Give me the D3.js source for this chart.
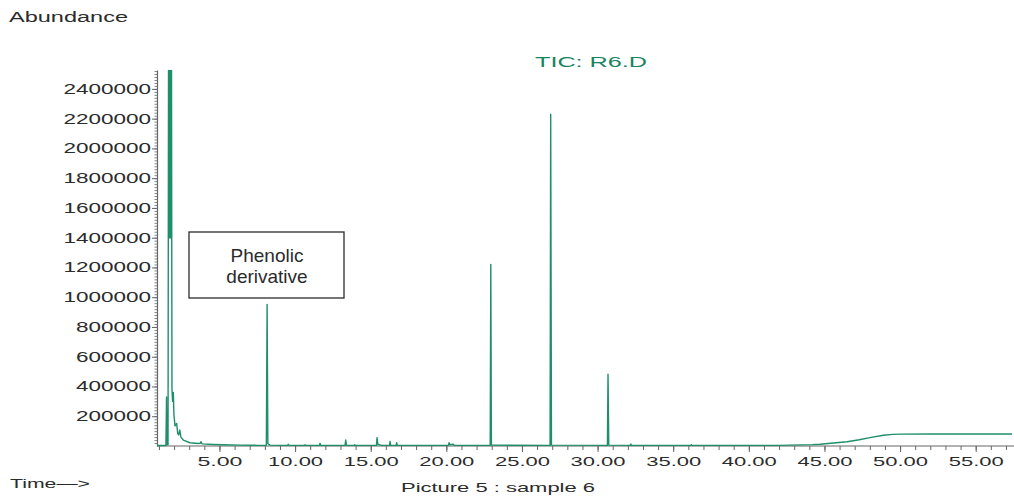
<!DOCTYPE html>
<html>
<head>
<meta charset="utf-8">
<script src="https://cdn.jsdelivr.net/npm/d3@7"></script>
<style>
  html, body { margin: 0; padding: 0; background: #fff; }
  svg { display: block; font-family: "Liberation Sans", Arial, Helvetica, sans-serif; }
</style>
</head>
<body>
<svg id="chart" width="1014" height="496"></svg>
<script>
// Total ion chromatogram, run R6.D — retention time (min) vs abundance
const traceTime = [
  0.87, 1.40, 1.46, 1.50, 1.53, 1.60, 1.64, 1.67, 1.70, 1.73, 1.76, 1.79, 1.82, 1.86,
  1.90, 1.95, 1.99, 2.06, 2.17, 2.24, 2.30, 2.38, 2.45, 2.61, 3.05, 3.60, 3.72, 3.78,
  3.85, 4.60, 5.24, 6.36, 7.50, 8.10, 8.15, 8.20, 8.35, 9.00, 9.50, 9.55, 9.60, 10.62,
  10.66, 10.70, 11.60, 11.65, 11.70, 13.30, 13.35, 13.40, 13.90, 13.94, 13.98, 15.38,
  15.42, 15.47, 15.60, 15.70, 16.24, 16.28, 16.32, 16.68, 16.72, 16.76, 20.14, 20.18,
  20.24, 20.46, 20.52, 22.90, 22.94, 22.98, 26.86, 26.90, 26.95, 30.65, 30.69, 30.74,
  32.16, 32.20, 32.24, 36.16, 36.20, 36.24, 42.0, 44.2, 44.7, 46.5, 47.3, 48.0, 48.9,
  49.5, 50.0, 52.0, 57.4
];
const traceAbundance = [
  3000, 3500, 4000, 330000, 8000, 9000, 3200000, 1400000, 3200000, 1400000, 3200000, 1400000, 3200000, 380000,
  300000, 360000, 210000, 135000, 152000, 85000, 74000, 107000, 60000, 40000, 22000, 17000, 18000, 29000,
  14000, 10000, 8000, 6000, 4500, 4500, 952000, 15000, 6000, 4000, 4000, 11000, 4000, 4000,
  8000, 4000, 4000, 18000, 4000, 4000, 40000, 5000, 4000, 9000, 4000, 4000,
  56000, 12000, 8000, 5000, 4000, 31000, 5000, 4000, 22000, 4000, 4000, 22000,
  8000, 12000, 4000, 4000, 1220000, 6000, 4000, 2230000, 6000, 4000, 482000, 6000,
  4000, 14000, 4000, 4000, 9000, 4000, 4000, 9000, 12000, 29000, 42000, 56000, 72000,
  78000, 80000, 81000, 81000
];

const yTickValues = [200000, 400000, 600000, 800000, 1000000, 1200000, 1400000,
                     1600000, 1800000, 2000000, 2200000, 2400000];
const xTickValues = [5, 10, 15, 20, 25, 30, 35, 40, 45, 50, 55];
const xTickLabels = ["5.00", "10.00", "15.00", "20.00", "25.00", "30.00",
                     "35.00", "40.00", "45.00", "50.00", "55.00"];
const annotationLines = ["Phenolic", "derivative"];

const svg = d3.select("#chart");
const traceColor = "#1f8f6a";
const inkColor = "#2b2b2b";
const axisColor = "#666";

const x = d3.scaleLinear().domain([0.87, 57.4]).range([157, 1012]);
const y = d3.scaleLinear().domain([0, 2527000]).range([446, 70]);

// Minor y ticks every 20 000
const yMinor = d3.range(20000, 2527000, 20000);
svg.append("g")
  .attr("transform", `translate(${x.range()[0]},0)`)
  .call(d3.axisLeft(y).tickValues(yMinor).tickSize(2.5).tickSizeOuter(0).tickFormat(""))
  .call(g => g.select(".domain").remove())
  .call(g => g.selectAll("line").attr("stroke", axisColor).attr("stroke-width", 0.8));

// Major y axis
const yAxis = svg.append("g")
  .attr("transform", `translate(${x.range()[0]},0)`)
  .call(d3.axisLeft(y).tickValues(yTickValues).tickSize(5).tickSizeOuter(0).tickFormat(d3.format("d")));
yAxis.select(".domain").attr("stroke", axisColor).attr("stroke-width", 1.2);
yAxis.selectAll("line").attr("stroke", axisColor);
yAxis.selectAll("text")
  .attr("x", -6)
  .attr("fill", inkColor)
  .style("font-size", "14px")
  .attr("textLength", function () { return this.textContent.length * 12.5; })
  .attr("lengthAdjust", "spacingAndGlyphs");

// Minor x ticks every minute
const xMinor = d3.range(1, 58, 1);
svg.append("g")
  .attr("transform", `translate(0,${y(0)})`)
  .call(d3.axisBottom(x).tickValues(xMinor).tickSize(4).tickSizeOuter(0).tickFormat(""))
  .call(g => g.select(".domain").remove())
  .call(g => g.selectAll("line").attr("stroke", axisColor));

// Major x axis
const xAxis = svg.append("g")
  .attr("transform", `translate(0,${y(0)})`)
  .call(d3.axisBottom(x).tickValues(xTickValues).tickSize(6).tickSizeOuter(0)
    .tickFormat((d, i) => xTickLabels[i]));
xAxis.select(".domain").attr("stroke", axisColor).attr("stroke-width", 1.2)
  .attr("d", `M${x.range()[0]},0H1014`);
xAxis.selectAll("line").attr("stroke", axisColor);
xAxis.selectAll("text")
  .attr("y", 20).attr("dy", 0)
  .attr("fill", inkColor)
  .style("font-size", "13.5px")
  .attr("textLength", function () { return this.textContent.length === 4 ? 45 : 55; })
  .attr("lengthAdjust", "spacingAndGlyphs");

// Plot clip so the solvent front runs off the top
svg.append("clipPath").attr("id", "plotClip")
  .append("rect").attr("x", 157).attr("y", 70).attr("width", 857).attr("height", 380);

const line = d3.line()
  .x((d, i) => x(traceTime[i]))
  .y(d => y(d));

svg.append("path")
  .datum(traceAbundance)
  .attr("clip-path", "url(#plotClip)")
  .attr("fill", "none")
  .attr("stroke", traceColor)
  .attr("stroke-width", 1.4)
  .attr("stroke-linejoin", "round")
  .attr("d", line);

// Annotation box
svg.append("rect")
  .attr("x", 189).attr("y", 232).attr("width", 155).attr("height", 66)
  .attr("fill", "#fff").attr("stroke", inkColor).attr("stroke-width", 1.3);
svg.selectAll("text.note")
  .data(annotationLines)
  .join("text")
  .attr("class", "note")
  .attr("x", 267)
  .attr("y", (d, i) => 262 + i * 20.5)
  .attr("text-anchor", "middle")
  .attr("fill", inkColor)
  .style("font-size", "19px")
  .text(d => d);

// Titles and axis captions
function caption(text, xPos, yPos, size, len, color, anchor) {
  svg.append("text")
    .attr("x", xPos).attr("y", yPos)
    .attr("text-anchor", anchor || "start")
    .attr("fill", color || inkColor)
    .style("font-size", size + "px")
    .attr("textLength", len)
    .attr("lengthAdjust", "spacingAndGlyphs")
    .text(text);
}
caption("Abundance", 9, 22, 14, 119);
caption("TIC: R6.D", 535, 67, 14, 112, "#18845f");
caption("Time\u2014>", 10, 488, 13, 80);
caption("Picture 5 : sample 6", 401, 492, 13, 194);
</script>
</body>
</html>
